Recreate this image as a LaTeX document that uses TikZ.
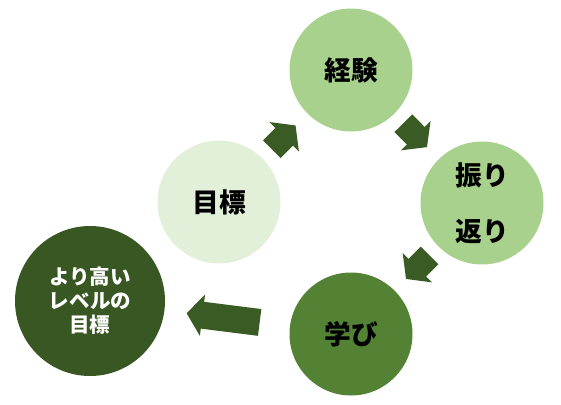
\documentclass[tikz,border=0pt]{standalone}
\usepackage{fontspec}
\setmainfont{Noto Sans CJK JP}
\definecolor{cycPale}{HTML}{E2F0D9}
\definecolor{cycLight}{HTML}{A9D18E}
\definecolor{cycMid}{HTML}{548235}
\definecolor{cycDark}{HTML}{385723}
\definecolor{cycArrow}{HTML}{3B5B25}
\usetikzlibrary{arrows.meta, positioning, calc}

\begin{document}
\begin{tikzpicture}[
  stage/.style={circle, minimum size=3.075cm, inner sep=0pt,
    align=center, font=\fontsize{19}{22}\selectfont\bfseries},
  flow/.style={-{Triangle[width=29pt, length=11.4pt]}, cycArrow,
    line width=17.8pt}]
  \useasboundingbox (0,0) rectangle (14.025,-10.1);
  \node[stage, fill=cycLight] (exp) at (8.775,-1.75) {経験};
  \node[stage, fill=cycLight, font=\fontsize{19}{40}\selectfont\bfseries]
    (refl) at (12.05,-5.075) {振り\\返り};
  \node[stage, fill=cycMid] (learn) at (8.775,-8.35) {学び};
  \node[stage, fill=cycPale] (goal) at (5.475,-5.05) {目標};
  \node[stage, fill=cycDark, minimum size=3.75cm, text=white,
    font=\fontsize{14.6}{17}\selectfont\bfseries]
    (next) at (2.25,-7.525) {より高い\\レベルの\\目標};
  % cycle arrows
  \draw[flow] ($(goal)!0.40!(exp)$) -- ($(goal)!0.58!(exp)$);
  \draw[flow] ($(exp)!0.40!(refl)$) -- ($(exp)!0.58!(refl)$);
  \draw[flow] ($(refl)!0.40!(learn)$) -- ($(refl)!0.58!(learn)$);
  \draw[flow, line width=19.2pt] ($(learn)!0.35!(next)$) -- ($(learn)!0.63!(next)$);
\end{tikzpicture}
\end{document}
